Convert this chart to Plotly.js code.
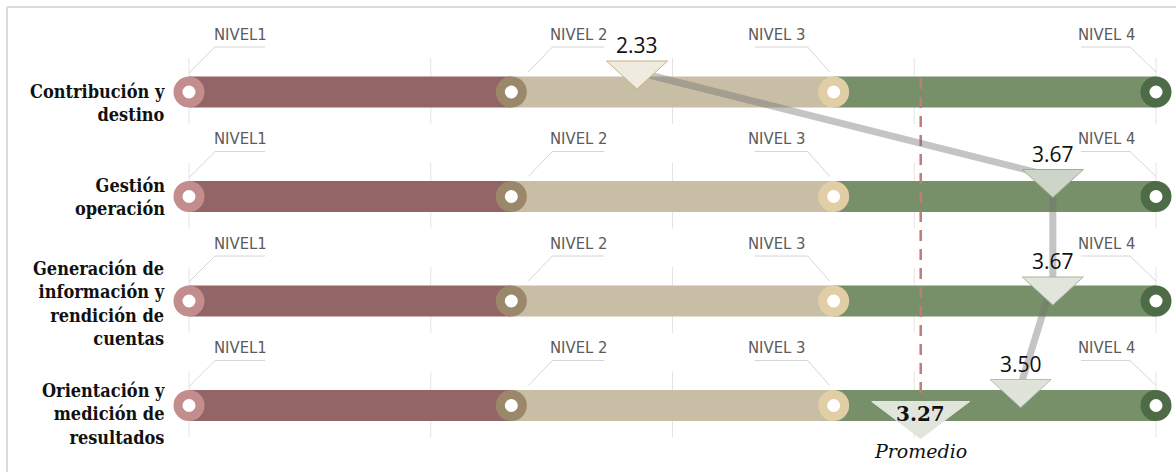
<!DOCTYPE html>
<html>
<head>
<meta charset="utf-8">
<script src="https://cdn.plot.ly/plotly-3.0.1.min.js"></script>
<style>
html, body { margin: 0; padding: 0; background: #ffffff; }
#chart { width: 1176px; height: 472px; }
</style>
</head>
<body>
<div id="chart"></div>
<script>
// ---------------- DATA ----------------
const categories = [
  "Contribución y<br>destino",
  "Gestión<br>operación",
  "Generación de<br>información y<br>rendición de<br>cuentas",
  "Orientación y<br>medición de<br>resultados"
];
const levels = [1, 2, 3, 4];
const levelLabels = ["NIVEL1", "NIVEL 2", "NIVEL 3", "NIVEL 4"];
const scores = [2.33, 3.67, 3.67, 3.50];
// where each score marker sits on the level scale in the picture
const scorePositions = [2.39, 3.68, 3.68, 3.58];
const average = 3.27;
const averageLabel = "Promedio";
const gridValues = [1, 1.75, 2.5, 3.25, 4];

// ---------------- STYLE / LAYOUT CONSTANTS ----------------
const W = 1176, H = 472;
const X1PX = 189, X4PX = 1156;
const K = (X4PX - X1PX) / (levels[levels.length - 1] - levels[0]);
const ROW0 = 92, ROWSTEP = 104.5;
const dx = p => p / K;
const dy = p => p / ROWSTEP;

const segColors = ["#946566", "#c8bda5", "#77906a"];
const circleColors = ["#c48d8d", "#9b886a", "#e2cea5", "#4e6b48"];
const triFill = ["#efebe0", "#cdd5c8", "#e1e5dc", "#dfe3d9"];
const triLine = ["#ccb07e", "#9cae90", "#a7b69c", "#b3bfa9"];
const labelShift = [11, 0, 2.5, 8];
const triTop = [31, 27, 24, 26];
const leaderGeom = [
  { pts: [[0, -19], [26, -45], [76, -45]], text: [51, -58] },
  { pts: [[17, -20], [41, -45], [93, -45]], text: [67, -58] },
  { pts: [[-79, -45], [-26, -45], [-4, -20]], text: [-57.5, -58] },
  { pts: [[-75, -45], [-26, -45], [0, -20]], text: [-49.5, -58] }
];

const rows = categories.map((_, i) => i);
const data = [];
const shapes = [];
const annotations = [];

// gridlines (behind bars)
rows.forEach(r => {
  gridValues.forEach(g => {
    shapes.push({
      type: 'line', layer: 'below', xref: 'x', yref: 'y',
      x0: g, x1: g, y0: r + dy(-34), y1: r + dy(32),
      line: { color: '#e4e4e4', width: 1 }
    });
  });
});

// frame (top and left edge)
shapes.push({ type: 'line', xref: 'paper', yref: 'paper', x0: 7 / W, x1: 1.05, y0: 1 - 7 / H, y1: 1 - 7 / H, line: { color: '#dadada', width: 2 } });
shapes.push({ type: 'line', xref: 'paper', yref: 'paper', x0: 7 / W, x1: 7 / W, y0: -0.05, y1: 1 - 7 / H, line: { color: '#dadada', width: 2 } });

// bar segments
for (let s = 0; s < levels.length - 1; s++) {
  data.push({
    type: 'bar', orientation: 'h',
    y: rows,
    x: rows.map(() => levels[s + 1] - levels[s]),
    base: rows.map(() => levels[s]),
    width: dy(31),
    marker: { color: segColors[s], line: { width: 0 } },
    hoverinfo: 'skip', showlegend: false
  });
}

// leader lines for level labels
const lx = [], ly = [];
rows.forEach(r => {
  levels.forEach((lv, j) => {
    leaderGeom[j].pts.forEach(p => { lx.push(lv + dx(p[0])); ly.push(r + dy(p[1])); });
    lx.push(null); ly.push(null);
    annotations.push({
      x: lv + dx(leaderGeom[j].text[0]), y: r + dy(leaderGeom[j].text[1]),
      xref: 'x', yref: 'y', text: levelLabels[j], showarrow: false,
      xanchor: 'center', yanchor: 'middle',
      font: { family: 'Liberation Sans Narrow, DejaVu Sans Condensed, Roboto, sans-serif', size: 16.5, color: '#5c5c5c' }
    });
  });
});
data.push({
  type: 'scatter', mode: 'lines', x: lx, y: ly, connectgaps: false,
  line: { color: '#d6d6d6', width: 1 }, hoverinfo: 'skip', showlegend: false
});

// average dashed line
data.push({
  type: 'scatter', mode: 'lines',
  x: [average, average], y: [rows[0] + dy(-14), rows[rows.length - 1]],
  line: { color: '#c27a7a', width: 2.5, dash: '11px,8px' },
  hoverinfo: 'skip', showlegend: false
});

// connector between score markers
data.push({
  type: 'scatter', mode: 'lines',
  x: scorePositions, y: rows.map(r => r + dy(-20)),
  line: { color: 'rgba(115,115,115,0.42)', width: 7 },
  hoverinfo: 'skip', showlegend: false
});

// level circles
const cx = [], cy = [], cc = [];
rows.forEach(r => levels.forEach((lv, j) => { cx.push(lv); cy.push(r); cc.push(circleColors[j]); }));
data.push({
  type: 'scatter', mode: 'markers', x: cx, y: cy, cliponaxis: false,
  marker: { size: 22, color: '#ffffff', line: { width: 9, color: cc } },
  hoverinfo: 'skip', showlegend: false
});

// score triangles
const HW = 30.5, TRIH = 28;
rows.forEach(r => {
  const p = scorePositions[r];
  const top = triTop[r];
  data.push({
    type: 'scatter', mode: 'lines', fill: 'toself',
    x: [p - dx(HW), p + dx(HW), p, p - dx(HW)],
    y: [r + dy(-top), r + dy(-top), r + dy(TRIH - top), r + dy(-top)],
    fillcolor: triFill[r], line: { color: triLine[r], width: 1 },
    hoverinfo: 'skip', showlegend: false
  });
  annotations.push({
    x: p, y: r + dy(-top - 1), xref: 'x', yref: 'y',
    text: scores[r].toFixed(2), showarrow: false,
    xanchor: 'center', yanchor: 'bottom', borderpad: 0,
    font: { family: 'Open Sans, DejaVu Sans, sans-serif', size: 21, color: '#111111' }
  });
});

// average triangle
const last = rows[rows.length - 1];
data.push({
  type: 'scatter', mode: 'lines', fill: 'toself',
  x: [average - dx(49), average + dx(49), average, average - dx(49)],
  y: [last + dy(-4), last + dy(-4), last + dy(33), last + dy(-4)],
  fillcolor: '#e1e6dd', line: { color: '#e1e6dd', width: 1 },
  hoverinfo: 'skip', showlegend: false
});
annotations.push({
  x: average, y: last + dy(8.5), xref: 'x', yref: 'y',
  text: average.toFixed(2), showarrow: false, xanchor: 'center', yanchor: 'middle',
  font: { family: 'DejaVu Serif, serif', size: 20, weight: 'bold', color: '#111111' }
});
annotations.push({
  x: average, y: last + dy(45), xref: 'x', yref: 'y',
  text: averageLabel, showarrow: false, xanchor: 'center', yanchor: 'middle',
  font: { family: 'DejaVu Serif, serif', size: 19, style: 'italic', color: '#111111' }
});

// category labels
rows.forEach(r => {
  annotations.push({
    x: levels[0] + dx(-22), y: r + dy(labelShift[r]), xref: 'x', yref: 'y',
    text: categories[r], showarrow: false, xanchor: 'right', yanchor: 'middle', align: 'right',
    font: { family: 'DejaVu Serif Condensed, DejaVu Serif, serif', size: 18, weight: 'bold', color: '#111111' }
  });
});

const layout = {
  width: W, height: H,
  margin: { l: 0, r: 0, t: 0, b: 0, pad: 0 },
  paper_bgcolor: '#ffffff', plot_bgcolor: '#ffffff',
  showlegend: false, barmode: 'overlay',
  xaxis: { range: [levels[0] - dx(X1PX), levels[0] + dx(W - X1PX)], visible: false, fixedrange: true },
  yaxis: { range: [dy(H - ROW0), dy(-ROW0)], visible: false, fixedrange: true },
  shapes: shapes,
  annotations: annotations
};

Plotly.newPlot('chart', data, layout, { staticPlot: true, displayModeBar: false });
</script>
</body>
</html>
